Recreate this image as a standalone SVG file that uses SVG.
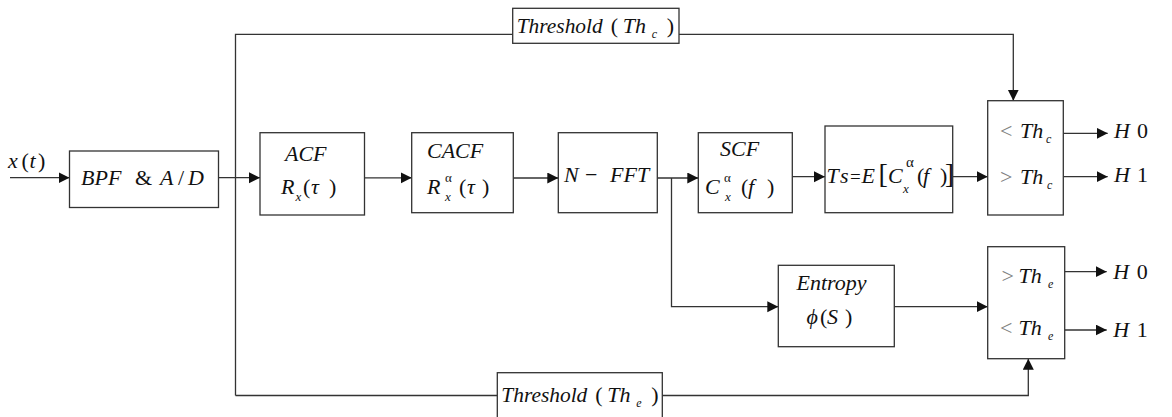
<svg xmlns="http://www.w3.org/2000/svg" width="1172" height="417" viewBox="0 0 1172 417">
<style>
.b{fill:#fff;stroke:#333;stroke-width:1.3}
.c{fill:none;stroke:#333;stroke-width:1.3}
.a{marker-end:url(#ah)}
text{font-family:'Liberation Serif','DejaVu Serif','Noto Serif',serif;font-style:italic;fill:#111;font-size:22px}
.n{font-style:normal}
.g{font-style:normal;fill:#808080}
.s{font-size:13px}
</style>
<defs>
<marker id="ah" markerUnits="userSpaceOnUse" markerWidth="12" markerHeight="12" refX="11" refY="5.5" orient="auto">
<path d="M0,0 L11,5.5 L0,11 z" fill="#111"/>
</marker>
</defs>
<rect width="1172" height="417" fill="#fff"/>
<g id="connectors">
<path class="c a" d="M10,177.7 H69.5"/>
<path class="c a" d="M218.5,177.7 H260"/>
<path class="c" d="M235.5,395.5 V34.3 H512.7"/>
<path class="c a" d="M679,34.3 H1013.3 V100.7"/>
<path class="c" d="M235.5,395.5 H497.3"/>
<path class="c a" d="M662.3,395.5 H1028.3 V358.7"/>
<path class="c a" d="M364.5,177.8 H411.7"/>
<path class="c a" d="M513.3,178 H558.3"/>
<path class="c a" d="M657.3,178 H698.3"/>
<path class="c a" d="M671.5,178 V306.7 H778.3"/>
<path class="c a" d="M792.3,176.7 H825"/>
<path class="c a" d="M952.7,176.7 H987.7"/>
<path class="c a" d="M1063.3,133.3 H1107.7"/>
<path class="c a" d="M1063.3,176.7 H1107.7"/>
<path class="c a" d="M894.3,306.7 H987.7"/>
<path class="c a" d="M1064.7,271.7 H1106.7"/>
<path class="c a" d="M1064.7,330 H1106.7"/>
</g>
<g id="input-label">
<text y="168" font-size="24"><tspan x="8">x</tspan><tspan x="21.5" class="n">(</tspan><tspan x="29.5">t</tspan><tspan x="38" class="n">)</tspan></text>
</g>
<g id="bpf">
<rect class="b" x="69.5" y="151" width="149" height="56.5"/>
<text y="184.5"><tspan x="81">BPF</tspan><tspan x="135" class="n">&amp;</tspan><tspan x="160">A</tspan><tspan x="178" class="n">/</tspan><tspan x="188">D</tspan></text>
</g>
<g id="acf">
<rect class="b" x="260" y="132.7" width="104.5" height="82.3"/>
<text x="285" y="161">ACF</text>
<text y="194"><tspan x="281">R</tspan><tspan x="295.5" y="201" class="s">x</tspan><tspan x="303" y="194" class="n">(</tspan><tspan x="311">τ</tspan><tspan x="329" class="n">)</tspan></text>
</g>
<g id="cacf">
<rect class="b" x="411.7" y="132.7" width="101.6" height="80"/>
<text x="427" y="157.5">CACF</text>
<text y="194"><tspan x="427">R</tspan><tspan x="445" y="181.5" class="s n">α</tspan><tspan x="445" y="200.5" class="s">x</tspan><tspan x="459" y="194" class="n">(</tspan><tspan x="467">τ</tspan><tspan x="482" class="n">)</tspan></text>
</g>
<g id="nfft">
<rect class="b" x="558.3" y="132.7" width="99" height="80"/>
<text y="181.7" font-size="23"><tspan x="564">N</tspan><tspan x="585" class="n">−</tspan><tspan x="610">FFT</tspan></text>
</g>
<g id="scf">
<rect class="b" x="698.3" y="132.7" width="94" height="80"/>
<text x="720" y="156">SCF</text>
<text y="194"><tspan x="705">C</tspan><tspan x="724" y="181.5" class="s n">α</tspan><tspan x="725" y="200.5" class="s">x</tspan><tspan x="741" y="194" class="n">(</tspan><tspan x="748">f</tspan><tspan x="767" class="n">)</tspan></text>
</g>
<g id="ts">
<rect class="b" x="825" y="126" width="127.7" height="86.7"/>
<text y="183.3" font-size="25"><tspan x="826.5">T</tspan><tspan x="840">s</tspan><tspan x="850" class="n" font-size="19">=</tspan><tspan x="861.5">E</tspan><tspan x="878.5" class="n" font-size="28">[</tspan><tspan x="888">C</tspan><tspan x="906" y="167" class="n" font-size="15">α</tspan><tspan x="903" y="193" class="s">x</tspan><tspan x="917" y="183.3" class="n">(</tspan><tspan x="923">f</tspan><tspan x="940" class="n">)</tspan><tspan x="945" class="n" font-size="27">]</tspan></text>
</g>
<g id="decision-c">
<rect class="b" x="987.7" y="100.7" width="75.6" height="114.3"/>
<text y="138.3" font-size="21"><tspan x="1000" class="g">&lt;</tspan><tspan x="1020">Th</tspan><tspan x="1046" y="143" font-size="12">c</tspan></text>
<text y="184.3" font-size="21"><tspan x="1000" class="g">&gt;</tspan><tspan x="1020">Th</tspan><tspan x="1047" y="188.5" font-size="12">c</tspan></text>
</g>
<g id="out-c">
<text y="138.3" font-size="21"><tspan x="1114">H</tspan><tspan x="1137" class="n">0</tspan></text>
<text y="181.7" font-size="21"><tspan x="1114">H</tspan><tspan x="1137" class="n">1</tspan></text>
</g>
<g id="entropy">
<rect class="b" x="778.3" y="265.3" width="116" height="81.4"/>
<text x="796.5" y="290">Entropy</text>
<text y="324" font-size="23"><tspan x="806.5">ϕ</tspan><tspan x="820" class="n">(</tspan><tspan x="827">S</tspan><tspan x="845" class="n">)</tspan></text>
</g>
<g id="decision-e">
<rect class="b" x="987.7" y="246.7" width="77" height="112"/>
<text y="283.3" font-size="21"><tspan x="1001.5" class="g">&gt;</tspan><tspan x="1018.5">Th</tspan><tspan x="1048" y="287.5" font-size="12">e</tspan></text>
<text y="335" font-size="21"><tspan x="1000" class="g">&lt;</tspan><tspan x="1018.5">Th</tspan><tspan x="1048" y="339.5" font-size="12">e</tspan></text>
</g>
<g id="out-e">
<text y="279.3" font-size="21"><tspan x="1113.3">H</tspan><tspan x="1136.7" class="n">0</tspan></text>
<text y="337.3" font-size="21"><tspan x="1113.3">H</tspan><tspan x="1136.7" class="n">1</tspan></text>
</g>
<g id="threshold-c">
<rect class="b" x="512.7" y="8.3" width="166.3" height="35"/>
<text y="33.3"><tspan x="516.7" textLength="86" lengthAdjust="spacingAndGlyphs">Threshold</tspan><tspan x="610.7" class="n">(</tspan><tspan x="622.7">Th</tspan><tspan x="651.7" y="38" font-size="12">c</tspan><tspan x="666.7" y="33.3" class="n">)</tspan></text>
</g>
<g id="threshold-e">
<rect class="b" x="497.3" y="372.7" width="165" height="46"/>
<text y="402"><tspan x="501.3" textLength="86" lengthAdjust="spacingAndGlyphs">Threshold</tspan><tspan x="595.3" class="n">(</tspan><tspan x="607.3">Th</tspan><tspan x="636.3" y="406.5" font-size="12">e</tspan><tspan x="651.3" y="402" class="n">)</tspan></text>
</g>
</svg>
